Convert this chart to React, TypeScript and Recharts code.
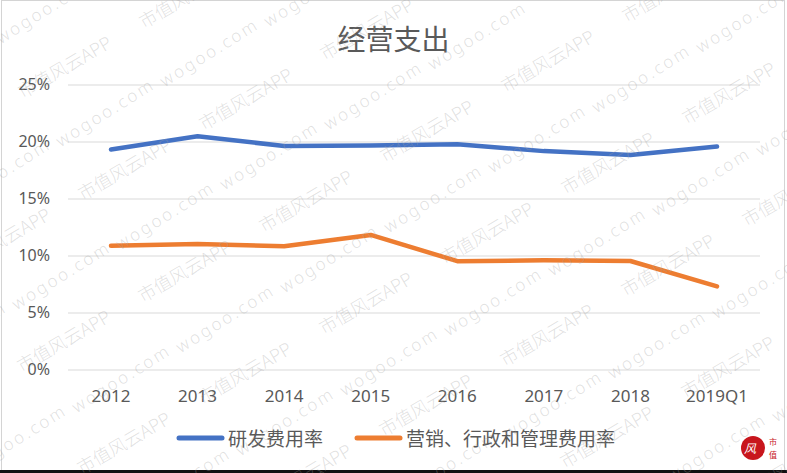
import React from 'react';
import { LineChart, Line, XAxis, YAxis, CartesianGrid } from 'recharts';

const categories = ['2012', '2013', '2014', '2015', '2016', '2017', '2018', '2019Q1'];
const rdRate = [19.35, 20.5, 19.65, 19.7, 19.8, 19.2, 18.85, 19.6];
const sgaRate = [10.9, 11.05, 10.85, 11.85, 9.55, 9.62, 9.56, 7.34];
const yTicks = [0, 5, 10, 15, 20, 25];

const seriesKeys = ['rd', 'sga'] as const;
const seriesNames = { rd: '研发费用率', sga: '营销、行政和管理费用率' };
const colors = { rd: '#4472C4', sga: '#ED7D31' };

const data = categories.map((c, i) => ({ name: c, rd: rdRate[i], sga: sgaRate[i] }));

const W = 787;
const H = 473;
const textGray = '#595959';
const sansFont = '"Noto Sans", "Noto Sans CJK SC", sans-serif';
const cjkFont = '"Noto Sans CJK SC", "Noto Sans", sans-serif';

const YTick = (props: any) => {
  const { y, payload } = props;
  return (
    <text x={50} y={y} dy={5} textAnchor="end" fill={textGray} fontSize={16} fontFamily={sansFont}>
      {`${payload.value}%`}
    </text>
  );
};

const XTick = (props: any) => {
  const { x, payload } = props;
  return (
    <text x={x} y={402} textAnchor="middle" fill={textGray} fontSize={17} fontFamily={sansFont}>
      {payload.value}
    </text>
  );
};

const ChartLegend = () => (
  <div style={{ position: 'absolute', left: 0, top: 426, width: W, display: 'flex', justifyContent: 'center', alignItems: 'center', gap: 31, paddingLeft: 4, boxSizing: 'border-box' }}>
    {seriesKeys.map((k) => (
      <div key={k} style={{ display: 'flex', alignItems: 'center' }}>
        <svg width={49} height={8} style={{ marginRight: 3 }}>
          <line x1={3} y1={4} x2={46} y2={4} stroke={colors[k]} strokeWidth={5} strokeLinecap="round" />
        </svg>
        <span style={{ fontFamily: cjkFont, fontSize: 19, color: textGray, lineHeight: '24px' }}>{seriesNames[k]}</span>
      </div>
    ))}
  </div>
);

// Faint diagonal watermark tiling
const Watermarks = () => {
  const marks: React.ReactNode[] = [];
  for (let m = -8; m <= 8; m++) {
    for (let n = -6; n <= 6; n++) {
      const x = 607 + m * 121 + n * 60;
      const y = 162 - m * 70 + n * 102;
      if (x > -60 && x < W + 60 && y > -25 && y < H + 25) {
        marks.push(
          <text key={`a${m}_${n}`} x={x} y={y} textAnchor="middle" dominantBaseline="central"
            transform={`rotate(-30 ${x} ${y})`} fontSize={18} fontFamily={cjkFont} fontWeight={300}
            fill="#a0a0a0" fillOpacity={0.32}>市值风云APP</text>
        );
      }
      const wx = 537 + m * 104 + n * 60;
      const wy = 138 - m * 60 + n * 103;
      if (wx > -60 && wx < W + 60 && wy > -25 && wy < H + 25) {
        marks.push(
          <text key={`b${m}_${n}`} x={wx} y={wy} textAnchor="middle" dominantBaseline="central"
            transform={`rotate(-32 ${wx} ${wy})`} fontSize={17} letterSpacing={2.5} fontFamily={sansFont} fontWeight={300}
            fill="#a0a0a0" fillOpacity={0.32}>wogoo.com</text>
        );
      }
    }
  }
  return <g>{marks}</g>;
};

export default function App() {
  return (
    <div style={{ position: 'absolute', left: 0, top: 0, width: W, height: H, background: '#fff', overflow: 'hidden' }}>
      <div style={{ position: 'absolute', left: 1, top: 0, width: 782, height: 469, border: '1px solid #d4d4d4' }} />
      <div style={{ position: 'absolute', left: 0, top: 470, width: W, height: 3, background: '#111' }} />
      <div style={{ position: 'absolute', left: 0, top: 20, width: W, textAlign: 'center', fontFamily: cjkFont, fontSize: 28, color: textGray, lineHeight: '36px' }}>
        经营支出
      </div>
      <div style={{ position: 'absolute', left: 0, top: 0 }}>
        <LineChart width={W} height={H} data={data} margin={{ top: 85, right: 27, bottom: 73, left: 0 }}>
          <CartesianGrid vertical={false} stroke="#d9d9d9" strokeWidth={1} />
          <XAxis dataKey="name" axisLine={false} tickLine={false} tick={<XTick />} padding={{ left: 43, right: 43 }} interval={0} height={30} />
          <YAxis width={68} domain={[0, 25]} ticks={yTicks} axisLine={false} tickLine={false} tick={<YTick />} />
          {seriesKeys.map((k) => (
            <Line key={k} dataKey={k} name={seriesNames[k]} stroke={colors[k]} strokeWidth={4.5} dot={false}
              strokeLinecap="round" strokeLinejoin="round" isAnimationActive={false} />
          ))}
        </LineChart>
      </div>
      <ChartLegend />
      <svg width={W} height={H} style={{ position: 'absolute', left: 0, top: 0, pointerEvents: 'none' }}>
        <Watermarks />
        <circle cx={753} cy={448} r={12} fill="#c8161d" />
        <text x={750} y={453} textAnchor="middle" fontSize={12} fontFamily={cjkFont} fill="#fff" fontStyle="italic">风</text>
        <text x={773} y={445} textAnchor="middle" fontSize={8} fontFamily={cjkFont} fill="#c8161d">市</text>
        <text x={773} y={458} textAnchor="middle" fontSize={8} fontFamily={cjkFont} fill="#c8161d">值</text>
      </svg>
    </div>
  );
}
